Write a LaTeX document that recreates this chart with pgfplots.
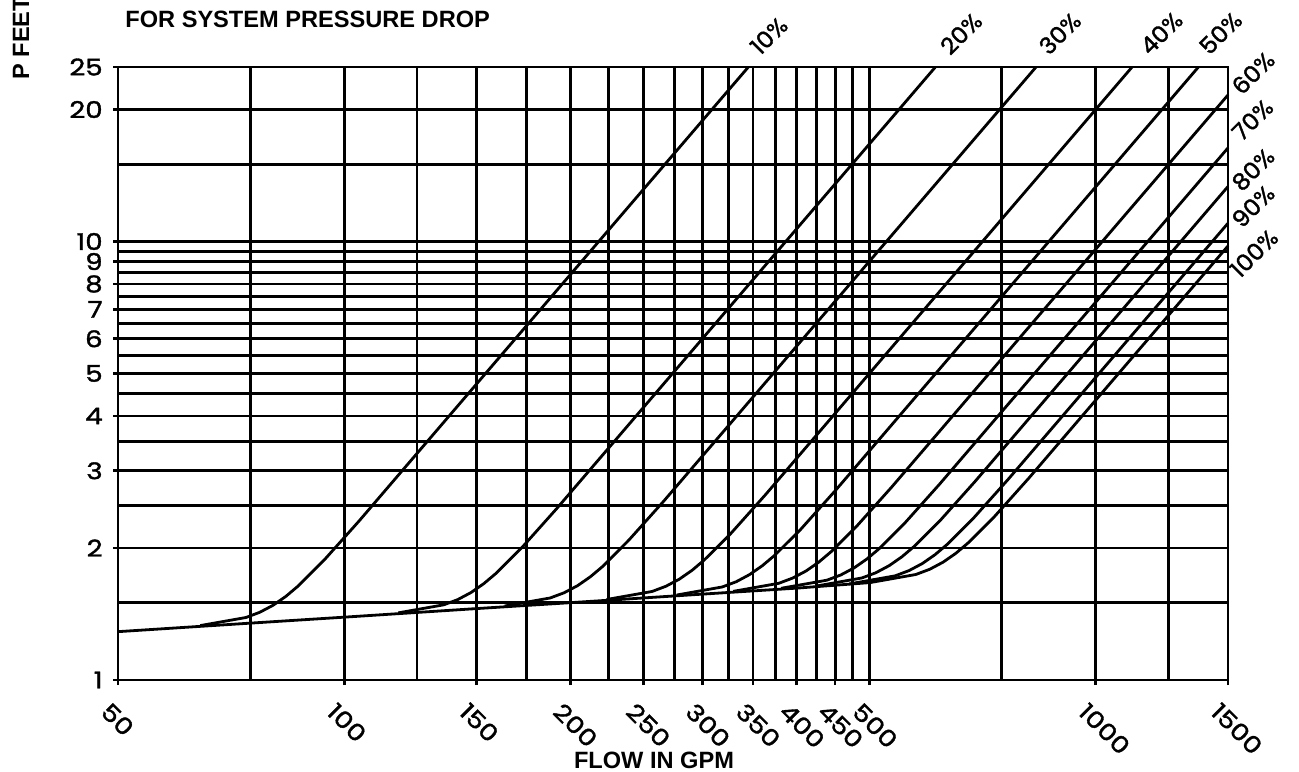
\documentclass[border=0pt]{standalone}
\usepackage{fontspec}
\setmainfont{Liberation Sans}
\newfontfamily\plotfont{Poppins}[FakeBold=1.5, FakeStretch=1.2]
\newfontfamily\pctfont{Poppins}[FakeBold=1.5, FakeStretch=1.05]
\usepackage{pgfplots}
\pgfplotsset{compat=1.18}
\begin{document}
\begin{tikzpicture}
\useasboundingbox (0,0) rectangle (649.5pt,385.5pt);
\begin{axis}[
  at={(59pt,45.5pt)}, anchor=south west,
  scale only axis, width=555pt, height=306.5pt,
  xmode=log, ymode=log,
  xmin=50, xmax=1500, ymin=1, ymax=25,
  clip=false,
  axis line style={line width=1.4pt, black},
  grid=both,
  grid style={line width=1.4pt, black},
  major grid style={line width=1.4pt, black},
  minor grid style={line width=1.4pt, black},
  tick style={line width=1.3pt, black},
  tick align=outside, tick pos=left,
  major tick length=2.5pt, minor tick length=0pt,
  xtick={50,100,150,200,250,300,350,400,450,500,1000,1500},
  xticklabels={50,100,150,200,250,300,350,400,450,500,1000,1500},
  minor xtick={75,125,175,225,275,325,375,425,475,750,1250},
  ytick={1,2,3,4,5,6,7,8,9,10,20,25},
  yticklabels={1,2,3,4,5,6,7,8,9,10,20,25},
  minor ytick={1.5,2.5,3.5,4.5,5.5,6.5,7.5,8.5,9.5,15},
  xticklabel style={font=\plotfont\fontsize{11.5}{11.5}\selectfont, rotate=-45, anchor=west, inner sep=0pt, xshift=3.2pt, yshift=-12.4pt},
  yticklabel style={font=\plotfont\fontsize{11.5}{11.5}\selectfont, anchor=east, inner sep=0pt, xshift=-5pt},
  cycle list={{black}},
  every axis plot/.append style={line width=1.4pt, solid, line join=round, no markers},
]
% base line
\addplot coordinates {(50,1.289) (75,1.348) (100,1.391) (150,1.455) (200,1.501) (300,1.570) (400,1.620) (501.1,1.668)};
% 10%
\addplot coordinates {(64.34,1.3309) (74.0,1.3885) (77.21,1.4271) (80.43,1.4811) (83.65,1.5520) (86.86,1.6391) (94.10,1.8800) (104.56,2.3007) (345,25)};
% 20%
\addplot coordinates {(118.0,1.4227) (135.7,1.4843) (141.6,1.5255) (147.5,1.5833) (153.4,1.6591) (159.3,1.7522) (172.6,2.0097) (191.75,2.4594) (612,25)};
% 30%
\addplot coordinates {(163.5,1.4747) (188.0,1.5385) (196.2,1.5812) (204.4,1.6411) (212.6,1.7197) (220.8,1.8161) (239.1,2.0831) (265.7,2.5491) (833,25)};
% 40%
\addplot coordinates {(223.4,1.5260) (256.9,1.5920) (268.0,1.6363) (279.2,1.6982) (290.4,1.7795) (301.5,1.8794) (326.7,2.1556) (363.0,2.6379) (1118,25)};
% 50%
\addplot coordinates {(277.0,1.5625) (318.5,1.6302) (332.4,1.6754) (346.2,1.7389) (360.0,1.8221) (373.9,1.9244) (405.1,2.2072) (450.1,2.7011) (1370,25)};
% 60%
\addplot coordinates {(329.3,1.5927) (378.7,1.6616) (395.1,1.7078) (411.6,1.7725) (428.1,1.8574) (444.5,1.9615) (481.6,2.2499) (535.1,2.7533) (1500,21.59)};
% 70%
\addplot coordinates {(381.5,1.6188) (438.7,1.6888) (457.8,1.7358) (476.9,1.8015) (496.0,1.8877) (515.1,1.9936) (558.0,2.2867) (620.0,2.7983) (1500,16.35)};
% 80%
\addplot coordinates {(424.8,1.6380) (488.5,1.7089) (509.8,1.7563) (531.0,1.8229) (552.2,1.9101) (573.5,2.0173) (621.3,2.3138) (690.3,2.8315) (1500,13.35)};
% 90%
\addplot coordinates {(470.2,1.6564) (540.8,1.7281) (564.3,1.7761) (587.8,1.8434) (611.3,1.9316) (634.8,2.0400) (687.7,2.3398) (764.1,2.8634) (1500,11.01)};
% 100%
\addplot coordinates {(501.1,1.6681) (576.3,1.7403) (601.3,1.7886) (626.4,1.8564) (651.5,1.9452) (676.5,2.0543) (732.9,2.3563) (814.3,2.8835) (1500,9.77)};
% curve labels
\begin{scope}[every node/.style={font=\pctfont\fontsize{11.5}{11.5}\selectfont, rotate=45, anchor=south west, inner sep=0pt}]
\node at ([shift={(6pt,5pt)}]axis cs:345,25) {10\%};
\node at ([shift={(7.5pt,5pt)}]axis cs:612,25) {20\%};
\node at ([shift={(6.5pt,5pt)}]axis cs:833,25) {30\%};
\node at ([shift={(9pt,5pt)}]axis cs:1118,25) {40\%};
\node at ([shift={(5.5pt,5pt)}]axis cs:1370,25) {50\%};
\node at ([shift={(7pt,-1pt)}]axis cs:1500,21.59) {60\%};
\node at ([shift={(7pt,2.5pt)}]axis cs:1500,16.35) {70\%};
\node at ([shift={(7pt,-3.5pt)}]axis cs:1500,13.35) {80\%};
\node at ([shift={(7pt,-3.5pt)}]axis cs:1500,11.01) {90\%};
\node at ([shift={(6pt,-17pt)}]axis cs:1500,9.77) {100\%};
\end{scope}
\end{axis}
\node[font=\bfseries\fontsize{11.8}{11.8}\selectfont, anchor=base west, inner sep=0pt] at (62.5pt,371.5pt) {FOR SYSTEM PRESSURE DROP};
\node[font=\bfseries\fontsize{11.8}{11.8}\selectfont, anchor=base west, inner sep=0pt, rotate=90] at (14.5pt,345.5pt) {P FEET};
\node[font=\bfseries\fontsize{11.8}{11.8}\selectfont, anchor=base, inner sep=0pt] at (327pt,1.5pt) {FLOW IN GPM};
\end{tikzpicture}
\end{document}
